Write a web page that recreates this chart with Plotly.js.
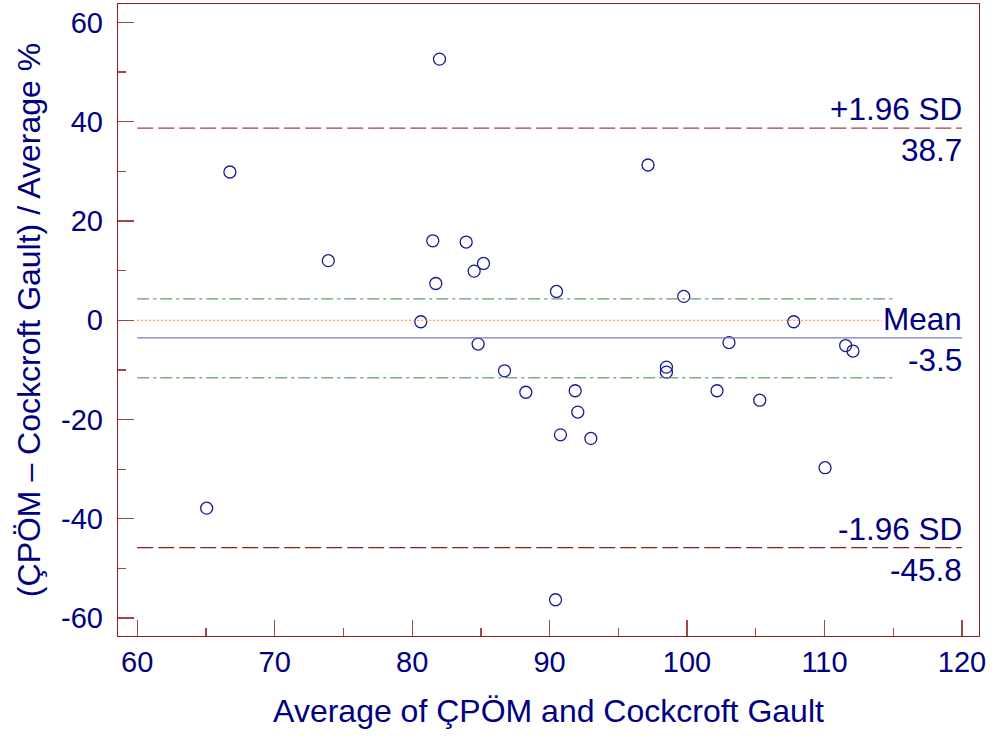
<!DOCTYPE html>
<html>
<head>
<meta charset="utf-8">
<script src="https://cdn.plot.ly/plotly-3.0.1.min.js"></script>
<style>
html,body{margin:0;padding:0;background:#fff;}
#chart{width:995px;height:742px;}
</style>
</head>
<body>
<div id="chart"></div>
<script>
// Average of the two methods (x) and relative difference % (y)
const avgValues = [65.05, 66.74, 73.9, 81.99, 81.5, 83.93, 85.19, 84.51, 81.72, 80.63,
  84.8, 90.5, 97.16, 99.76, 86.72, 88.27, 91.86, 92.05, 90.79, 93.0,
  98.5, 98.5, 103.05, 102.18, 107.76, 111.54, 112.07, 105.29, 110.04, 90.43];
const diffValues = [-37.85, 29.86, 12.0, 52.6, 16.0, 15.75, 11.44, 9.9, 7.4, -0.3,
  -4.8, 5.8, 31.27, 4.8, -10.18, -14.5, -14.2, -18.5, -23.08, -23.8,
  -9.44, -10.45, -4.5, -14.2, -0.3, -5.1, -6.2, -16.1, -29.7, -56.3];

const meanDiff = -3.55;
const upperLoA = 38.7;
const lowerLoA = -45.8;
const meanCI = [4.3, -11.6];
const zeroLine = 0;

const xTickVals = [60, 70, 80, 90, 100, 110, 120];
const xTickText = ["60", "70", "80", "90", "100", "110", "120"];
const yTickVals = [-60, -40, -20, 0, 20, 40, 60];
const yTickText = ["-60", "-40", "-20", "0", "20", "40", "60"];

const xTitle = "Average of ÇPÖM and Cockcroft Gault";
const yTitle = "(ÇPÖM – Cockcroft Gault) / Average %";
const labelUpper = ["+1.96 SD", "38.7"];
const labelMean = ["Mean", "-3.5"];
const labelLower = ["-1.96 SD", "-45.8"];

const xLineStart = 60, xLineEnd = 120, xShortEnd = 114.2, xCIEnd = 115;

const navy = "#000080";
const font = "Liberation Sans, Arial, sans-serif";
const fsTick = 29, fsTitle = 32, fsAnn = 31.5;

function hline(y, x1, color, dash, width) {
  return {type: "line", xref: "x", yref: "y", x0: xLineStart, x1: x1, y0: y, y1: y,
    line: {color: color, dash: dash, width: width}};
}

const shapes = [
  hline(zeroLine, xShortEnd, "#FF7F00", "2px,2px", 1),
  hline(meanCI[0], xCIEnd, "#3A8A3A", "12px,4px,3px,4px", 1),
  hline(meanCI[1], xCIEnd, "#3A8A3A", "12px,4px,3px,4px", 1),
  hline(meanDiff, xLineEnd, "#7A7AC0", "solid", 1.3),
  hline(upperLoA, xLineEnd, "#A83C3C", "16px,5px", 1.3),
  hline(lowerLoA, xLineEnd, "#921C1C", "16px,5px", 1.3)
];

function ann(text, y, above) {
  return {xref: "x", yref: "y", x: xLineEnd, y: y, text: text, showarrow: false,
    xanchor: "right", yanchor: above ? "bottom" : "top", yshift: above ? -1 : -2, xshift: 2,
    font: {family: font, size: fsAnn, color: navy}};
}

const annotations = [
  ann(labelUpper[0], upperLoA, true), ann(labelUpper[1], upperLoA, false),
  ann(labelMean[0], meanDiff, true), ann(labelMean[1], meanDiff, false),
  ann(labelLower[0], lowerLoA, true), ann(labelLower[1], lowerLoA, false)
];

const trace = {
  x: avgValues, y: diffValues, type: "scatter", mode: "markers",
  marker: {symbol: "circle-open", size: 12, color: "#1a1a90", line: {width: 1.3, color: "#1a1a90"}},
  hoverinfo: "skip"
};

const axisCommon = {
  showline: true, linecolor: "#8B2020", linewidth: 1.3, mirror: true,
  ticks: "inside", tickcolor: "#A04848", tickwidth: 1.3, ticklen: 16,
  showgrid: false, zeroline: false,
  tickfont: {family: font, size: fsTick, color: navy}
};

const layout = {
  width: 995, height: 742,
  margin: {l: 118, r: 16, t: 4, b: 106},
  paper_bgcolor: "#fff", plot_bgcolor: "#fff",
  showlegend: false,
  xaxis: Object.assign({}, axisCommon, {
    range: [58.6, 121.24], tickmode: "array", tickvals: xTickVals, ticktext: xTickText,
    minor: {tickvals: [65, 75, 85, 95, 105, 115], ticks: "inside", ticklen: 8, tickcolor: "#A04848", tickwidth: 1.3},
    ticklabelstandoff: 0,
    title: {text: xTitle, font: {family: font, size: fsTitle, color: navy}, standoff: 22}
  }),
  yaxis: Object.assign({}, axisCommon, {
    range: [-63.6, 63.7], tickmode: "array", tickvals: yTickVals, ticktext: yTickText,
    minor: {tickvals: [-50, -30, -10, 10, 30, 50], ticks: "inside", ticklen: 8, tickcolor: "#A04848", tickwidth: 1.3},
    ticklabelstandoff: 8,
    title: {text: yTitle, font: {family: font, size: fsTitle, color: navy}, standoff: 10}
  }),
  shapes: shapes,
  annotations: annotations
};

Plotly.newPlot("chart", [trace], layout, {displayModeBar: false, staticPlot: true});
</script>
</body>
</html>
